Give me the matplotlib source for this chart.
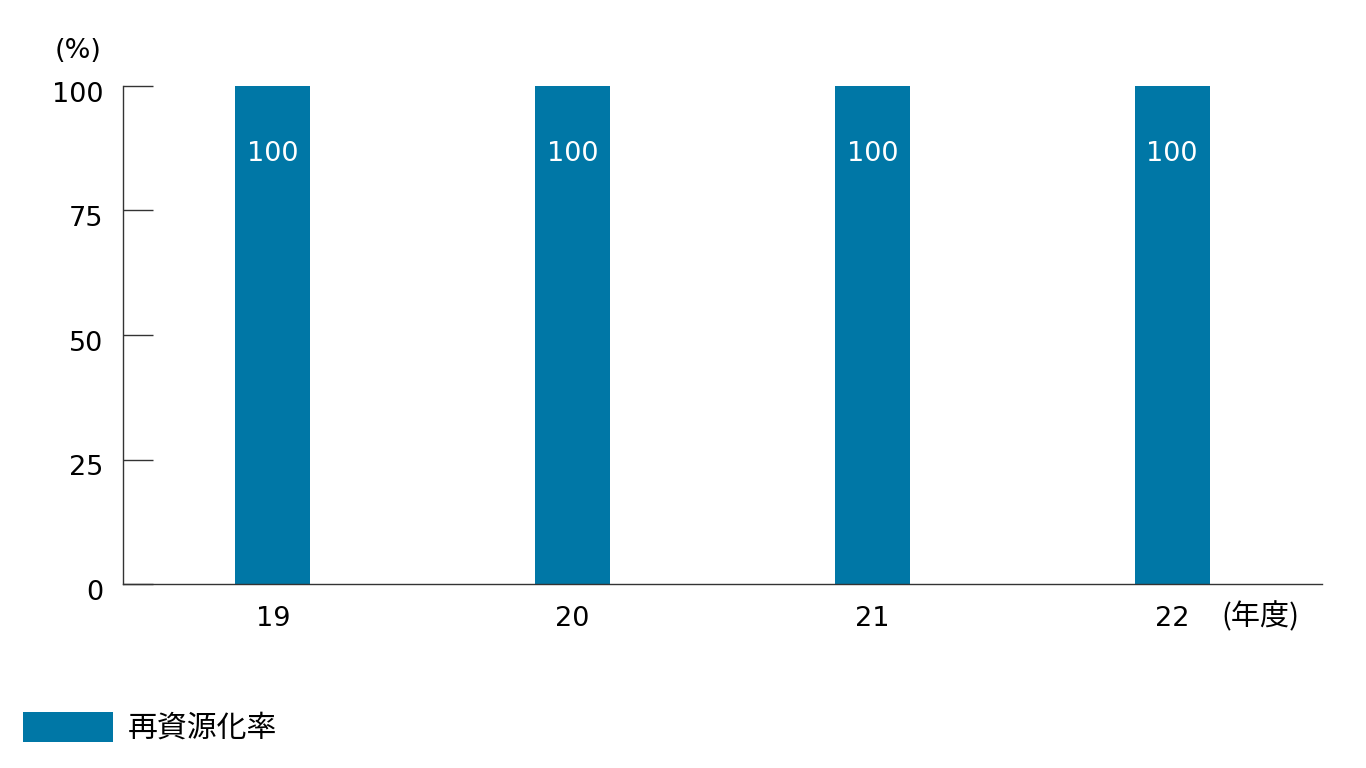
import matplotlib
matplotlib.use("Agg")
import matplotlib.pyplot as plt
import matplotlib.transforms as mtransforms
from matplotlib.patches import Patch

plt.rcParams["font.family"] = ["DejaVu Sans", "Noto Sans CJK JP"]

years = ["19", "20", "21", "22"]
rates = [100, 100, 100, 100]
y_ticks = [0, 25, 50, 75, 100]
series_name = "再資源化率"
BAR_COLOR = "#0077a6"
AXIS_COLOR = "#333333"

fig = plt.figure(figsize=(13.66, 7.68), dpi=100)
ax = fig.add_axes([123 / 1366, 1 - 584 / 768, (1322 - 123) / 1366, (584 - 86) / 768])

x = list(range(len(years)))
ax.bar(x, rates, width=0.25, color=BAR_COLOR, zorder=2)
for xi, v in zip(x, rates):
    ax.text(xi, v - 13.6, f"{v}", ha="center", va="center", color="white", fontsize=19.5)

ax.set_xlim(-0.5, 3.5)
ax.set_ylim(0, 100)
ax.set_yticks(y_ticks)
ax.set_yticklabels([str(t) for t in y_ticks])
ax.set_xticks(x)
ax.set_xticklabels(years)

for side in ("top", "right"):
    ax.spines[side].set_visible(False)
for side in ("left", "bottom"):
    ax.spines[side].set_color(AXIS_COLOR)
    ax.spines[side].set_linewidth(1)

ax.tick_params(axis="y", direction="in", length=21.6, width=1, color=AXIS_COLOR,
               labelsize=19.5, pad=14, labelcolor="black")
ax.tick_params(axis="x", length=0, labelsize=19.5, pad=16, labelcolor="black")

# labels sit a little below their ticks in the original
shift = mtransforms.ScaledTranslation(0, -6 / 100, fig.dpi_scale_trans)
for lbl in ax.get_yticklabels():
    lbl.set_transform(lbl.get_transform() + shift)

fig.text(78 / 1366, 1 - 51 / 768, "(%)", ha="center", va="center", fontsize=19.5)
fig.text(1260 / 1366, 1 - 617 / 768, "(年度)", ha="center", va="center", fontsize=21,
         family=["Noto Sans CJK JP", "DejaVu Sans"])

fig.legend(handles=[Patch(facecolor=BAR_COLOR, edgecolor="none", label=series_name)],
           loc="center left", bbox_to_anchor=(23 / 1366, 1 - 728 / 768), frameon=False,
           borderpad=0, borderaxespad=0, prop={"family": ["Noto Sans CJK JP"], "size": 21.5},
           handlelength=3.0, handleheight=1.15, handletextpad=0.5)

fig.savefig("out.png", dpi=100)
